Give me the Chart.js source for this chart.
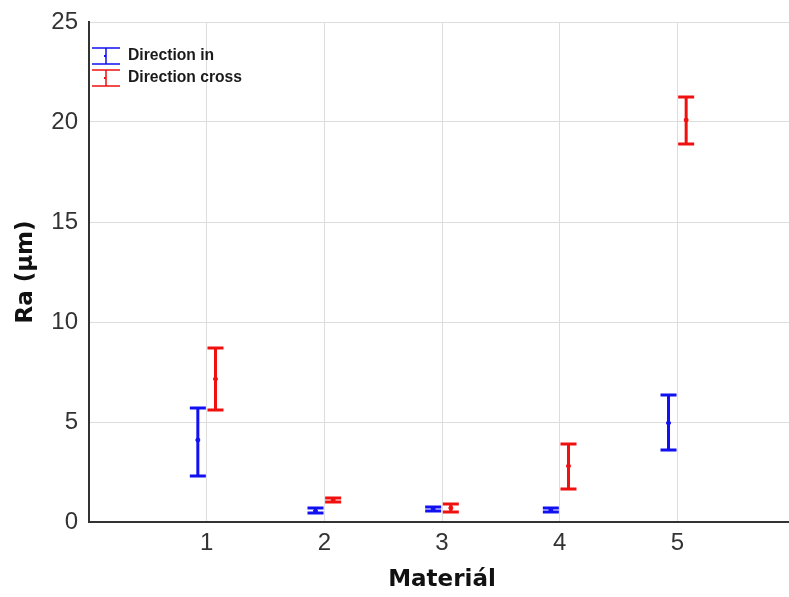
<!DOCTYPE html>
<html>
<head>
<meta charset="utf-8">
<script src="https://cdn.jsdelivr.net/npm/chart.js@4/dist/chart.umd.min.js"></script>
<style>
  html, body { margin: 0; padding: 0; background: #fff; overflow: hidden; }
  #wrap { width: 800px; height: 597px; }
</style>
</head>
<body>
<div id="wrap"><canvas id="errChart" width="800" height="597"></canvas></div>
<script>
const categories = [1, 2, 3, 4, 5];
const seriesNames = ['Direction in', 'Direction cross'];

const inMean = [4.1, 0.55, 0.65, 0.6, 4.95];
const inLow = [2.3, 0.45, 0.55, 0.5, 3.6];
const inHigh = [5.7, 0.7, 0.75, 0.7, 6.35];

const crossMean = [7.15, 1.1, 0.7, 2.8, 20.1];
const crossLow = [5.6, 1.0, 0.5, 1.65, 18.9];
const crossHigh = [8.7, 1.2, 0.9, 3.9, 21.25];

const yTicks = [0, 5, 10, 15, 20, 25];

const colors = ['#1010f0', '#f01010'];
const shift = [-0.075, 0.075];

const makeSet = (label, means, lows, highs, i) => ({
    label: label,
    data: categories.map((c, k) => ({ x: c + shift[i], y: means[k], lo: lows[k], hi: highs[k] })),
    showLine: false,
    pointRadius: 2,
    pointBackgroundColor: colors[i],
    pointBorderColor: colors[i],
    borderColor: colors[i],
});

// whiskers + legend, drawn through the chart scales
const errorBars = {
    id: 'errorBars',
    afterDatasetsDraw(chart) {
        const { ctx, scales: { x, y } } = chart;
        ctx.save();
        chart.data.datasets.forEach((ds) => {
            ctx.strokeStyle = ds.borderColor;
            ctx.lineWidth = 3;
            ds.data.forEach((p) => {
                const px = x.getPixelForValue(p.x);
                const top = y.getPixelForValue(p.hi);
                const bot = y.getPixelForValue(p.lo);
                ctx.beginPath();
                ctx.moveTo(px, top);
                ctx.lineTo(px, bot);
                ctx.moveTo(px - 8, top);
                ctx.lineTo(px + 8, top);
                ctx.moveTo(px - 8, bot);
                ctx.lineTo(px + 8, bot);
                ctx.stroke();
            });
        });

        // legend in the upper left corner
        const lx = chart.chartArea.left + 3;
        ctx.font = 'bold 16px "Liberation Sans Narrow", "Liberation Sans", Arial, sans-serif';
        const widest = Math.max(...seriesNames.map((n) => ctx.measureText(n).width));
        const squeeze = Math.min(1, 114 / widest);
        chart.data.datasets.forEach((ds, i) => {
            const cy = 56 + i * 22;
            ctx.strokeStyle = ds.borderColor;
            ctx.lineWidth = 1.5;
            ctx.beginPath();
            ctx.moveTo(lx, cy - 8); ctx.lineTo(lx + 28, cy - 8);
            ctx.moveTo(lx, cy + 8); ctx.lineTo(lx + 28, cy + 8);
            ctx.moveTo(lx + 14, cy - 8); ctx.lineTo(lx + 14, cy + 8);
            ctx.stroke();
            ctx.fillStyle = ds.borderColor;
            ctx.fillRect(lx + 12, cy - 1, 2, 2);
            ctx.save();
            ctx.translate(lx + 36, cy);
            ctx.scale(squeeze, 1);
            ctx.fillStyle = '#1a1a1a';
            ctx.textBaseline = 'middle';
            ctx.fillText(ds.label, 0, 0);
            ctx.restore();
        });
        ctx.restore();
    },
};

const tickFont = { family: 'Liberation Sans, Arial, sans-serif', size: 24 };
const titleFont = { family: 'DejaVu Sans, Verdana, sans-serif', size: 23, weight: 'bold' };

new Chart(document.getElementById('errChart').getContext('2d'), {
    type: 'scatter',
    data: {
        datasets: [
            makeSet(seriesNames[0], inMean, inLow, inHigh, 0),
            makeSet(seriesNames[1], crossMean, crossLow, crossHigh, 1),
        ],
    },
    options: {
        responsive: false,
        animation: false,
        layout: { padding: { top: 22, right: 0, left: 0, bottom: 0 } },
        plugins: {
            legend: { display: false },
            tooltip: { enabled: false },
        },
        scales: {
            x: {
                type: 'linear',
                min: 0,
                max: 6,
                afterBuildTicks: (scale) => { scale.ticks = categories.map((v) => ({ value: v })); },
                afterFit: (scale) => { scale.height = 75; scale.paddingLeft = 0; scale.paddingRight = 0; },
                grid: { color: '#dddddd', drawTicks: false },
                border: { color: '#333333', width: 2 },
                ticks: { padding: 7, color: '#333333', font: tickFont },
                title: {
                    display: true,
                    text: 'Materiál',
                    color: '#111111',
                    font: titleFont,
                    padding: { top: 4, bottom: 3 },
                },
            },
            y: {
                min: 0,
                max: 25,
                afterBuildTicks: (scale) => { scale.ticks = yTicks.map((v) => ({ value: v })); },
                afterFit: (scale) => { scale.width = 89; scale.paddingTop = 0; scale.paddingBottom = 0; },
                grid: { color: '#dddddd', drawTicks: false },
                border: { color: '#333333', width: 2 },
                ticks: { padding: 11, color: '#333333', font: tickFont },
                title: {
                    display: true,
                    text: 'Ra (µm)',
                    color: '#111111',
                    font: titleFont,
                    padding: { top: 12, bottom: 4 },
                },
            },
        },
    },
    plugins: [errorBars],
});
</script>
</body>
</html>
